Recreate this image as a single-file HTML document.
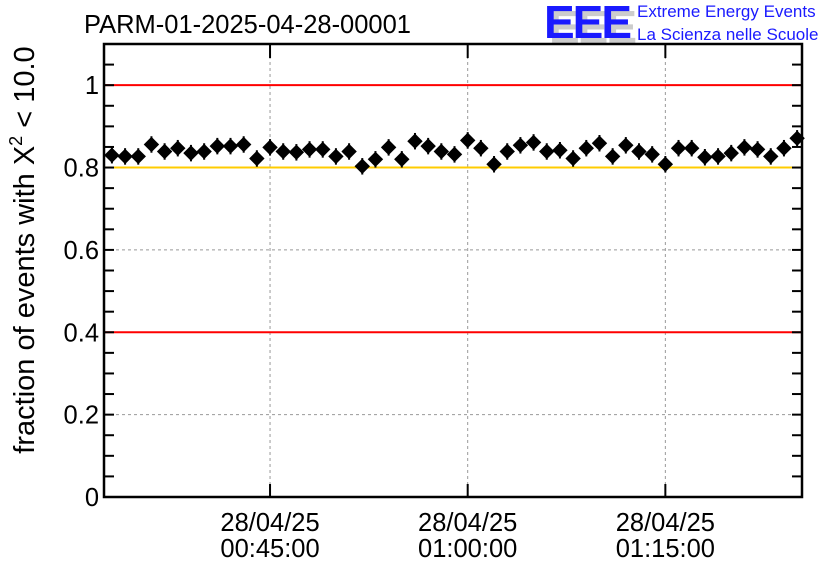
<!DOCTYPE html>
<html><head><meta charset="utf-8"><style>
body{margin:0;background:#fff;}
svg{display:block;font-family:"Liberation Sans",sans-serif;}
</style></head><body>
<svg id="chart" width="836" height="572" viewBox="0 0 836 572">
<text x="84" y="33" font-size="25.5">PARM-01-2025-04-28-00001</text>
<g>
<text x="549" y="43" font-size="46" font-weight="bold" fill="#ccc" letter-spacing="-2">EEE</text>
<text x="544" y="38" font-size="46" font-weight="bold" fill="#1a1aff" letter-spacing="-2">EEE</text>
<text x="637" y="17" font-size="17" fill="#1a1aff">Extreme Energy Events</text>
<text x="637" y="40" font-size="17" fill="#1a1aff">La Scienza nelle Scuole</text>
</g>
<g id="grid"></g>
<g id="axes"></g>
<g id="marks"></g>
<text transform="translate(34,250) rotate(-90)" text-anchor="middle" font-size="29">fraction of events with X<tspan dy="-12" font-size="18">2</tspan><tspan dy="12"> &lt; 10.0</tspan></text>
</svg>
<script>
const values=[0.830,0.827,0.827,0.856,0.839,0.847,0.835,0.839,0.852,0.852,0.856,0.822,0.849,0.839,0.837,0.844,0.844,0.827,0.839,0.803,0.820,0.849,0.820,0.864,0.852,0.839,0.832,0.866,0.847,0.808,0.839,0.854,0.861,0.839,0.842,0.822,0.847,0.859,0.827,0.854,0.839,0.832,0.808,0.847,0.847,0.825,0.827,0.835,0.849,0.844,0.827,0.847,0.871];
const startMinute=33;
const yTicks=[0,0.2,0.4,0.6,0.8,1];
const yTickLabels=["0","0.2","0.4","0.6","0.8","1"];
const xTickMinutes=[45,60,75];
const xTickLabels=[["28/04/25","00:45:00"],["28/04/25","01:00:00"],["28/04/25","01:15:00"]];
const refLines=[{v:1,c:"#ff0000",n:"upper-limit-line"},{v:0.8,c:"#ffcc00",n:"target-line"},{v:0.4,c:"#ff0000",n:"lower-limit-line"}];
const L=104,R=802,T=44,B=497;
const xMin=32.4,xMax=85.37,yMin=0,yMax=1.1;
const X=m=>L+(m-xMin)/(xMax-xMin)*(R-L);
const Y=v=>B-(v-yMin)/(yMax-yMin)*(B-T);
const NS="http://www.w3.org/2000/svg";
function mk(tag,attrs,parent){const e=document.createElementNS(NS,tag);for(const k in attrs)e.setAttribute(k,attrs[k]);parent.appendChild(e);return e;}
const grid=document.getElementById('grid'),axes=document.getElementById('axes'),marks=document.getElementById('marks');
yTicks.forEach((v,i)=>{if(v>0&&v!=1&&v!=0.8&&v!=0.4){const g=mk('line',{x1:L,x2:R,y1:Y(v),y2:Y(v),stroke:'#999','stroke-dasharray':'3,3'},grid);

}
const t=mk('text',{x:L-5,y:Y(v)+9,'text-anchor':'end','font-size':'25.5'},axes);t.textContent=yTickLabels[i];

});
xTickMinutes.forEach((m,i)=>{const g=mk('line',{x1:X(m),x2:X(m),y1:T,y2:B,stroke:'#999','stroke-dasharray':'3,3'},grid);


mk('line',{x1:X(m),x2:X(m),y1:B,y2:B-13,stroke:'#000','stroke-width':2},axes);
mk('line',{x1:X(m),x2:X(m),y1:T,y2:T+14,stroke:'#000','stroke-width':2},axes);
xTickLabels[i].forEach((s,j)=>{const t=mk('text',{x:X(m),y:B+34+j*26,'text-anchor':'middle','font-size':'25.5'},axes);t.textContent=s;

});});
for(let v=0;v<=1.1001;v+=0.05){mk('line',{x1:L,x2:L+10,y1:Y(v),y2:Y(v),stroke:'#000','stroke-width':2},axes);mk('line',{x1:R,x2:R-10,y1:Y(v),y2:Y(v),stroke:'#000','stroke-width':2},axes);}
refLines.forEach(r=>{const l=mk('line',{x1:L,x2:R,y1:Y(r.v),y2:Y(r.v),stroke:r.c,'stroke-width':2},grid);

});
const fr=mk('rect',{x:L,y:T,width:R-L,height:B-T,fill:'none',stroke:'#000','stroke-width':2.5},axes);


values.forEach((v,i)=>{const m=startMinute+i,cx=X(m),cy=Y(v);
const g=mk('g',{},marks);


mk('line',{x1:X(m-0.5),x2:X(m+0.5),y1:cy,y2:cy,stroke:'#000','stroke-width':2},g);
mk('line',{x1:cx,x2:cx,y1:Y(v+0.02),y2:Y(v-0.02),stroke:'#000','stroke-width':2},g);
mk('path',{d:`M${cx},${cy-7}L${cx+7},${cy}L${cx},${cy+7}L${cx-7},${cy}Z`,fill:'#000',stroke:'#000','stroke-width':1},g);});
</script>
</body></html>
